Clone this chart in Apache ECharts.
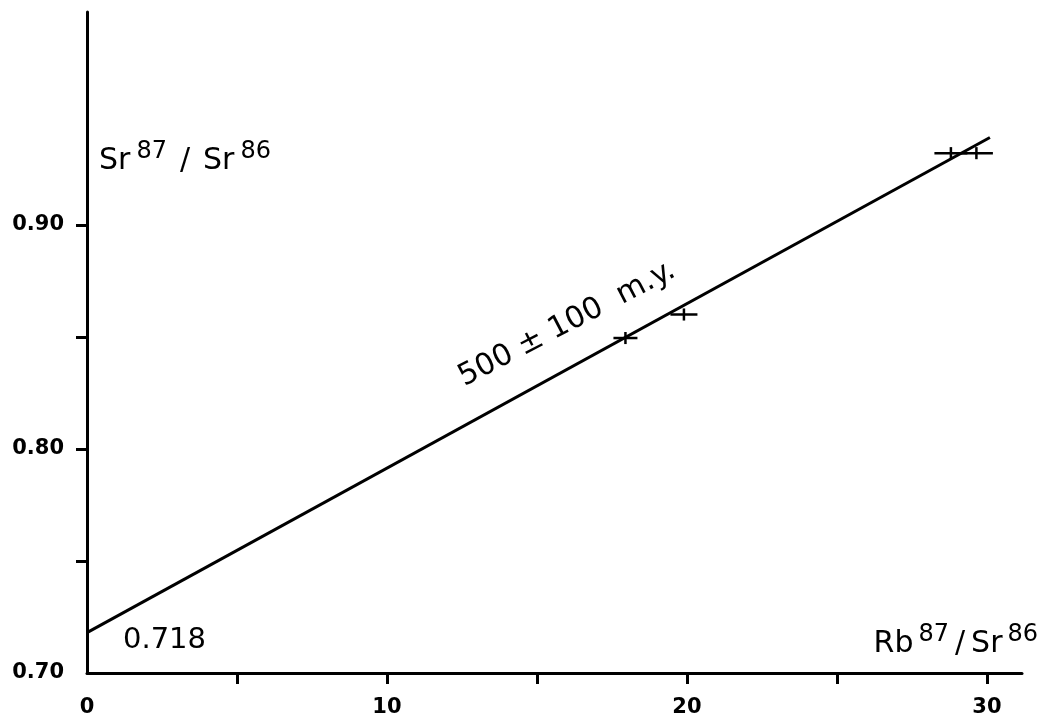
<!DOCTYPE html>
<html>
<head>
<meta charset="utf-8">
<script src="https://cdn.jsdelivr.net/npm/echarts@6/dist/echarts.min.js"></script>
<style>html,body{margin:0;padding:0;background:#fff;}#c{width:1042px;height:718px;}</style>
</head>
<body>
<div id="c"></div>
<script>
// ---- data ----
const xTickValues = [5, 10, 15, 20, 25, 30];
const xLabelValues = [0, 10, 20, 30];
const yTickValues = [0.75, 0.80, 0.85, 0.90];
const yLabelValues = [0.70, 0.80, 0.90];
const sampleX = [17.95, 19.9, 28.8, 29.65];
const sampleY = [0.8495, 0.860, 0.932, 0.932];
const sampleXErr = [0.4, 0.45, 0.55, 0.55];
const sampleYErr = [0.0027, 0.0027, 0.0027, 0.0027];
const isochronX = [0, 30.1];
const isochronY = [0.718, 0.939];

const samples = sampleX.map((x, i) => [x, sampleY[i], sampleXErr[i], sampleYErr[i]]);
const isochron = isochronX.map((x, i) => [x, isochronY[i]]);

const chart = echarts.init(document.getElementById('c'));
const FONT = 'DejaVu Sans';

chart.setOption({
  animation: false,
  backgroundColor: '#fff',
  grid: { left: 87, right: 20, top: 12, bottom: 45, containLabel: false },
  xAxis: {
    type: 'value', min: 0, max: 31.17,
    axisLine: { show: true, onZero: false, lineStyle: { color: '#000', width: 3 } },
    axisTick: { show: true, customValues: xTickValues, length: 11, lineStyle: { color: '#000', width: 3 } },
    axisLabel: {
      show: true, customValues: xLabelValues, margin: 24,
      color: '#000', fontFamily: FONT, fontWeight: 'bold', fontSize: 21,
      formatter: v => String(v)
    },
    splitLine: { show: false }
  },
  yAxis: {
    type: 'value', min: 0.70, max: 0.995,
    axisLine: { show: true, onZero: false, lineStyle: { color: '#000', width: 3 } },
    axisTick: { show: true, customValues: yTickValues, length: 11, lineStyle: { color: '#000', width: 3 } },
    axisLabel: {
      show: true, customValues: yLabelValues, margin: 23,
      color: '#000', fontFamily: FONT, fontWeight: 'bold', fontSize: 21,
      formatter: v => v.toFixed(2)
    },
    splitLine: { show: false }
  },
  series: [
    {
      type: 'line', data: isochron, showSymbol: false, symbol: 'none',
      lineStyle: { color: '#000', width: 3 }, z: 3
    },
    {
      type: 'custom', data: samples, z: 4,
      renderItem: function (params, api) {
        const x = api.value(0), y = api.value(1), ex = api.value(2), ey = api.value(3);
        const l = api.coord([x - ex, y]), r = api.coord([x + ex, y]);
        const t = api.coord([x, y + ey]), b = api.coord([x, y - ey]);
        const st = { stroke: '#000', lineWidth: 2.5 };
        return {
          type: 'group',
          children: [
            { type: 'line', shape: { x1: l[0], y1: l[1], x2: r[0], y2: r[1] }, style: st },
            { type: 'line', shape: { x1: t[0], y1: t[1], x2: b[0], y2: b[1] }, style: st }
          ]
        };
      }
    }
  ],
  graphic: [
    {
      type: 'text', left: 99, top: 140,
      style: {
        text: '{a|Sr}{s|87}{b|/}{a|Sr}{s|86}',
        rich: {
          a: { fontFamily: FONT, fontSize: 30, lineHeight: 36, verticalAlign: 'bottom', fill: '#000' },
          b: { fontFamily: FONT, fontSize: 30, lineHeight: 36, verticalAlign: 'bottom', fill: '#000', padding: [0, 13, 0, 13] },
          s: { fontFamily: FONT, fontSize: 24, lineHeight: 20, verticalAlign: 'top', padding: [0, 0, 0, 6], fill: '#000' }
        }
      }
    },
    {
      type: 'text', right: 4, top: 623,
      style: {
        text: '{a|Rb}{s|87}{b|/}{a|Sr}{s|86}',
        rich: {
          a: { fontFamily: FONT, fontSize: 30, lineHeight: 36, verticalAlign: 'bottom', fill: '#000' },
          b: { fontFamily: FONT, fontSize: 30, lineHeight: 36, verticalAlign: 'bottom', fill: '#000', padding: [0, 6, 0, 6] },
          s: { fontFamily: FONT, fontSize: 24, lineHeight: 20, verticalAlign: 'top', padding: [0, 0, 0, 5], fill: '#000' }
        }
      }
    },
    {
      type: 'text', x: 123, y: 640,
      style: { text: '0.718', fontFamily: FONT, fontSize: 29, fill: '#000', textAlign: 'left', textVerticalAlign: 'middle' }
    },
    {
      type: 'text', x: 567, y: 324, rotation: 0.48,
      style: { text: '500 \u00b1 100  m.y.', fontFamily: FONT, fontSize: 30, fill: '#000', textAlign: 'center', textVerticalAlign: 'middle' }
    }
  ]
});
</script>
</body>
</html>
